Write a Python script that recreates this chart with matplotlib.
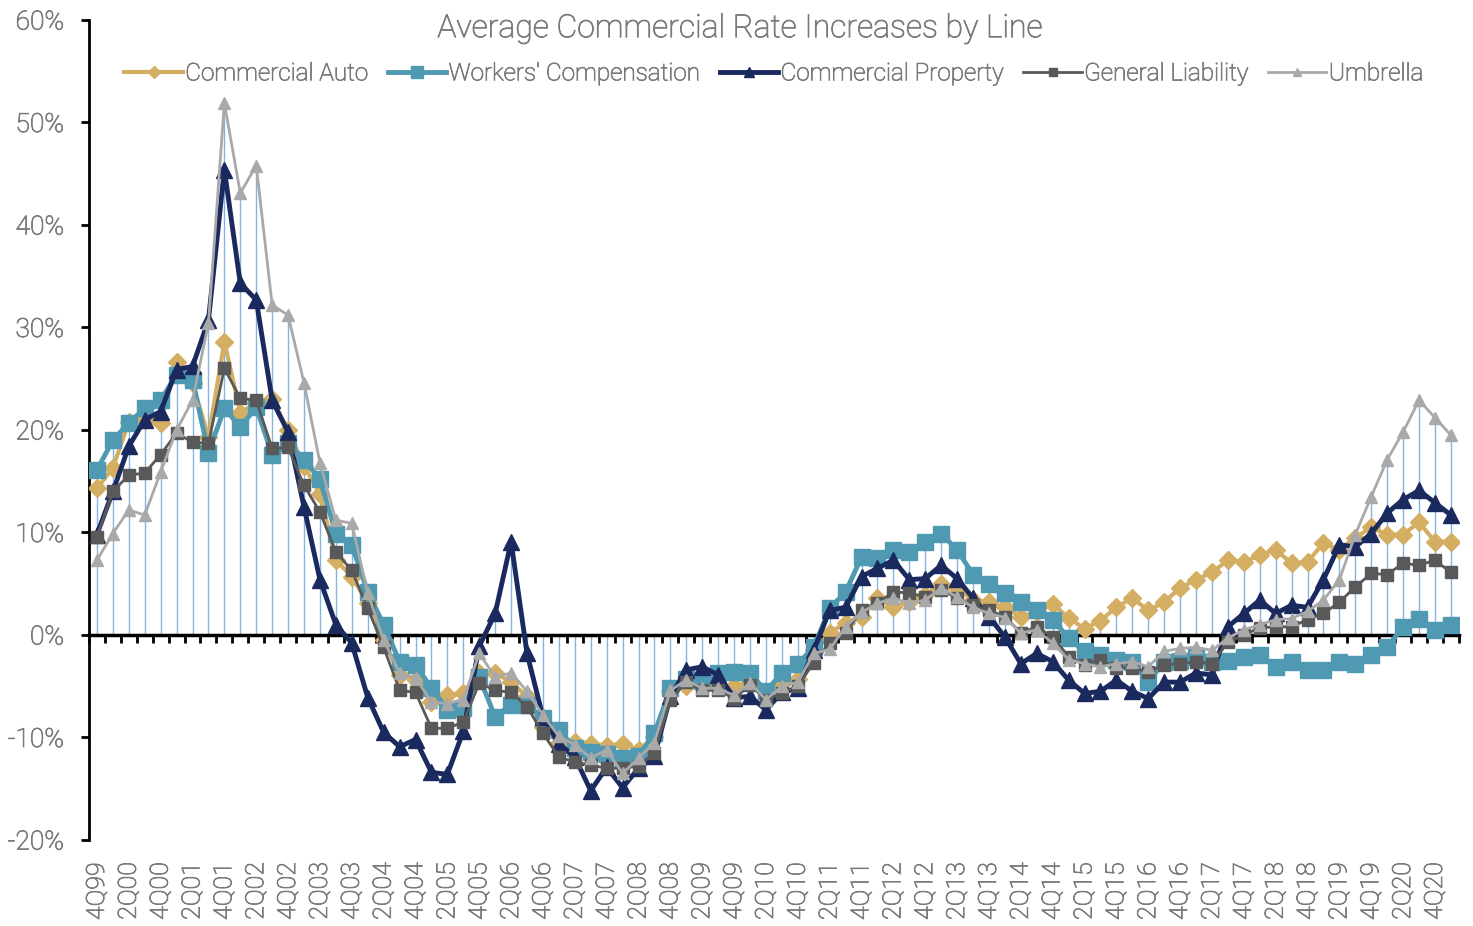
import numpy as np
import matplotlib
matplotlib.use("Agg")
import matplotlib.pyplot as plt
import matplotlib.patheffects as pe

plt.rcParams['font.family'] = ['Roboto', 'DejaVu Sans']
plt.rcParams['font.weight'] = 'light'

# quarters 4Q99 .. 1Q21
quarters = ['4Q99'] + ['%dQ%02d' % (q, y) for y in range(0, 21) for q in (1, 2, 3, 4)] + ['1Q21']

commercial_auto = [
    14.3, 16.3, 20.8, 21.0, 20.7, 26.6, 24.6, 19.3, 28.6, 21.7,
    22.6, 23.0, 20.0, 16.5, 13.8, 7.3, 5.7, 3.1, -0.5, -3.9,
    -4.4, -6.5, -5.9, -5.7, -3.7, -3.7, -4.6, -6.0, -9.0, -10.5,
    -10.4, -10.6, -10.8, -10.6, -11.2, -10.0, -5.5, -5.0, -4.3, -4.8,
    -5.0, -4.6, -5.6, -4.8, -4.3, -1.5, 0.2, 1.2, 1.8, 3.6,
    2.7, 3.2, 3.9, 5.0, 4.6, 3.4, 3.2, 2.7, 1.8, 2.2,
    3.0, 1.7, 0.6, 1.4, 2.7, 3.6, 2.4, 3.2, 4.6, 5.4,
    6.1, 7.3, 7.1, 7.8, 8.3, 7.0, 7.1, 9.0, 8.3, 9.5,
    10.5, 9.8, 9.8, 11.0, 9.1, 9.1]

workers_comp = [
    16.1, 19.0, 20.7, 22.1, 22.9, 25.4, 24.9, 17.8, 22.1, 20.3,
    22.2, 17.6, 18.7, 17.1, 15.2, 9.9, 8.8, 4.2, 1.0, -2.6,
    -2.9, -5.2, -7.3, -7.1, -4.1, -8.0, -6.8, -6.8, -8.1, -9.3,
    -11.0, -11.4, -11.6, -12.0, -11.8, -9.6, -5.2, -4.3, -4.5, -3.7,
    -3.6, -3.7, -5.5, -3.7, -2.8, -1.2, 2.6, 4.2, 7.6, 7.5,
    8.3, 8.1, 9.1, 9.9, 8.3, 5.9, 5.0, 4.1, 3.2, 2.4,
    1.5, -0.3, -1.6, -2.0, -2.4, -2.6, -4.6, -2.6, -2.5, -2.1,
    -2.6, -2.5, -2.1, -2.0, -3.1, -2.6, -3.4, -3.4, -2.6, -2.8,
    -2.0, -1.2, 0.8, 1.6, 0.5, 1.0]

commercial_property = [
    9.8, 14.0, 18.4, 21.0, 21.8, 25.9, 26.2, 30.7, 45.4, 34.3,
    32.7, 22.9, 19.8, 12.5, 5.4, 1.0, -0.8, -6.1, -9.5, -10.9,
    -10.2, -13.4, -13.6, -9.4, -1.1, 2.1, 9.1, -1.8, -8.0, -10.6,
    -11.9, -15.2, -12.9, -14.9, -13.0, -11.8, -6.0, -3.4, -3.1, -3.9,
    -6.1, -6.0, -7.3, -5.6, -5.2, -1.5, 2.4, 2.7, 5.7, 6.5,
    7.3, 5.4, 5.5, 6.8, 5.5, 3.6, 1.8, -0.2, -2.8, -1.8,
    -2.6, -4.4, -5.7, -5.5, -4.4, -5.5, -6.2, -4.6, -4.6, -3.7,
    -3.9, 0.8, 2.1, 3.4, 2.1, 2.9, 2.7, 5.4, 8.8, 8.6,
    9.9, 11.9, 13.2, 14.1, 12.9, 11.7]

general_liability = [
    9.6, 14.0, 15.6, 15.8, 17.6, 19.7, 18.8, 18.7, 26.0, 23.1,
    22.9, 18.2, 18.3, 14.6, 12.0, 8.1, 6.3, 2.6, -1.2, -5.4,
    -5.6, -9.1, -9.1, -8.5, -4.7, -5.4, -5.6, -7.0, -9.6, -11.9,
    -12.4, -12.7, -13.0, -13.0, -12.8, -11.5, -6.3, -4.6, -5.4, -5.4,
    -6.2, -4.9, -6.3, -5.7, -5.0, -2.7, -0.8, 0.2, 2.4, 3.1,
    4.2, 4.1, 3.7, 4.4, 3.6, 2.9, 2.4, 1.8, 0.2, 0.8,
    -0.2, -2.1, -2.9, -2.4, -3.2, -3.2, -3.6, -2.9, -2.8, -2.6,
    -2.8, -0.7, 0.0, 0.7, 0.8, 0.8, 1.5, 2.1, 3.2, 4.7,
    6.0, 5.9, 7.0, 6.8, 7.3, 6.1]

umbrella = [
    7.3, 9.9, 12.2, 11.7, 15.9, 20.0, 22.9, 30.4, 51.9, 43.1,
    45.8, 32.2, 31.2, 24.6, 16.8, 11.2, 10.9, 4.1, -0.5, -3.7,
    -4.2, -6.5, -6.7, -6.3, -1.8, -4.1, -3.7, -5.5, -7.8, -9.9,
    -10.7, -12.0, -11.2, -13.5, -12.0, -10.5, -5.4, -4.4, -5.2, -5.2,
    -5.9, -4.7, -6.3, -5.0, -4.6, -1.8, -1.4, 0.8, 2.2, 3.1,
    3.6, 3.1, 3.4, 4.6, 3.7, 2.7, 2.1, 1.7, 0.2, 0.5,
    -0.8, -2.4, -2.8, -3.1, -2.8, -2.6, -3.1, -1.6, -1.3, -1.2,
    -1.5, -0.3, 0.5, 1.0, 1.5, 1.6, 2.3, 3.4, 5.4, 9.8,
    13.5, 17.1, 19.8, 22.9, 21.2, 19.5]

x = np.arange(len(quarters))
all_series = np.vstack([commercial_auto, workers_comp, commercial_property,
                        general_liability, umbrella]) / 100.0

fig = plt.figure(figsize=(14.73, 9.26), dpi=100)
ax = fig.add_axes([0.0604, 0.0929, 0.930, 0.8855])

# drop lines
ax.vlines(x, 0, all_series.max(axis=0), color='#5B9BD5', lw=1, alpha=0.75, zorder=1)

styles = [
    ("Commercial Auto", '#D4AE62', 'D', 9, 3),
    ("Workers' Compensation", '#4F9AB2', 's', 12, 3.5),
    ("Commercial Property", '#1B2A5E', '^', 11, 3.5),
    ("General Liability", '#595959', 's', 9, 2),
    ("Umbrella", '#A9A9A9', '^', 8, 2),
]
for vals, (name, col, mk, ms, lw) in zip(all_series, styles):
    ax.plot(x, vals, color=col, marker=mk, markersize=ms, lw=lw,
            markeredgecolor=col, label=name, zorder=3)

txt = '#7A7A7A'
bold_up = [pe.withStroke(linewidth=0.6, foreground=txt)]

ax.set_xlim(-0.5, len(x) - 0.5)
ax.set_ylim(-0.2, 0.6)
ax.set_yticks(np.arange(-0.2, 0.61, 0.1))
ax.set_yticklabels(['%d%%' % round(v * 100) for v in np.arange(-0.2, 0.61, 0.1)])
ax.tick_params(axis='y', colors='black', labelcolor=txt, labelsize=19,
               direction='out', length=6, width=2, pad=12)

for s in ['top', 'right']:
    ax.spines[s].set_visible(False)
ax.spines['left'].set_linewidth(2)
ax.spines['bottom'].set_position(('data', 0))
ax.spines['bottom'].set_linewidth(2.5)
ax.spines['bottom'].set_zorder(2)
ax.set_xticks(np.arange(-0.5, len(x), 1.0))
ax.tick_params(axis='x', direction='out', length=6, width=2, labelbottom=False)

# category labels at the bottom
sec = ax.secondary_xaxis('bottom')
sec.set_xticks(x[::2])
sec.set_xticklabels(quarters[::2], rotation=90)
sec.tick_params(length=0, labelsize=18, labelcolor=txt, pad=16)
sec.spines['bottom'].set_visible(False)

title = fig.text(0.5025, 0.969, "Average Commercial Rate Increases by Line", ha='center',
                 va='center', fontsize=23, color=txt)

leg = ax.legend(loc='upper center', bbox_to_anchor=(0.5, 0.975), ncol=5, frameon=False,
                fontsize=17.5, labelcolor=txt, handlelength=2.4, handletextpad=0.1,
                columnspacing=0.8, markerscale=0.7)

for t in ([title] + leg.get_texts() + ax.get_yticklabels() + sec.get_xticklabels()):
    t.set_path_effects(bold_up)

fig.savefig('out.png', dpi=100)
